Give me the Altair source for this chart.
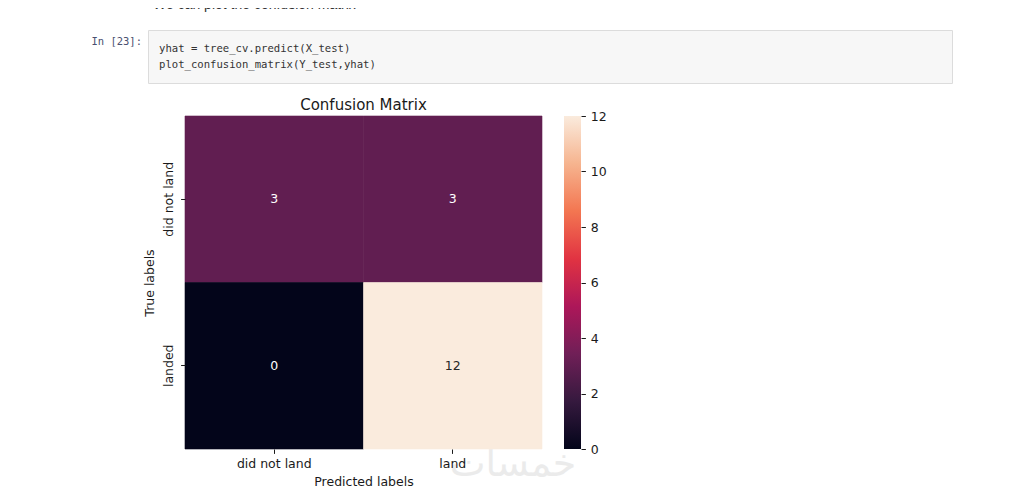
import altair as alt
import pandas as pd

# ---------------- data ----------------
true_labels = ["did not land", "landed"]
pred_labels = ["did not land", "land"]
counts = [[3, 3],
          [0, 12]]
vmin, vmax = 0, 12
cbar_ticks = [0, 2, 4, 6, 8, 10, 12]

# seaborn "rocket" colormap key colours
rocket_pos = [0, 1 / 7, 2 / 7, 3 / 7, 4 / 7, 5 / 7, 6 / 7, 1]
rocket_colors = ["#03051a", "#35193e", "#701f57", "#ad1759",
                 "#e13342", "#f37651", "#f6b48f", "#faebdd"]

# notebook text
intro_text = "We can plot the confusion matrix"
prompt_text = "In [23]:"
code_lines = ["yhat = tree_cv.predict(X_test)",
              "plot_confusion_matrix(Y_test,yhat)"]
title_text = "Confusion Matrix"
x_title = "Predicted labels"
y_title = "True labels"
watermark_text = "خمسات"

rows = [{"true": t, "pred": p, "value": counts[i][j]}
        for i, t in enumerate(true_labels)
        for j, p in enumerate(pred_labels)]
df = pd.DataFrame(rows)
cbar_df = pd.DataFrame({"lo": [vmin], "hi": [vmax]})

FONT = "DejaVu Sans"
MONO = "DejaVu Sans Mono"
INK = "#1a1a1a"
W, H = 357, 333

color_scale = alt.Scale(domain=[vmin + p * (vmax - vmin) for p in rocket_pos],
                        range=rocket_colors, interpolate="rgb")
band = alt.Scale(paddingInner=0, paddingOuter=0)

x_axis = alt.Axis(title=x_title, labelAngle=0, domain=False, grid=False,
                  ticks=True, tickSize=4.4, tickColor=INK, tickWidth=1,
                  labelPadding=14, labelBaseline="alphabetic",
                  labelFont=FONT, labelFontSize=12.5, labelColor=INK,
                  titleFont=FONT, titleFontSize=12.5, titleFontWeight="normal",
                  titleColor=INK, titleY=36.5, titleBaseline="alphabetic")
y_axis = alt.Axis(title=y_title, labelAngle=270, labelAlign="center",
                  labelBaseline="alphabetic", labelPadding=8.3,
                  domain=False, grid=False, ticks=True, tickSize=4.4,
                  tickColor=INK, tickWidth=1,
                  labelFont=FONT, labelFontSize=12.5, labelColor=INK,
                  titleFont=FONT, titleFontSize=12.5, titleFontWeight="normal",
                  titleColor=INK, titleAngle=270, titleX=-31.5, titleY=H / 2,
                  titleAlign="center", titleBaseline="alphabetic")

heat = alt.Chart(df).mark_rect(strokeWidth=0.6).encode(
    x=alt.X("pred:N", sort=pred_labels, scale=band, axis=x_axis),
    y=alt.Y("true:N", sort=true_labels, scale=band, axis=y_axis),
    color=alt.Color("value:Q", scale=color_scale, legend=None),
    stroke=alt.Stroke("value:Q", scale=color_scale, legend=None),
)
cell_text = alt.Chart(df).mark_text(font=FONT, fontSize=12.5,
                                    align="center", baseline="middle").encode(
    x=alt.X("pred:N", sort=pred_labels, scale=band, axis=x_axis),
    y=alt.Y("true:N", sort=true_labels, scale=band, axis=y_axis),
    text="value:Q",
    color=alt.condition(alt.datum.value > 6, alt.value("#262626"), alt.value("white")),
)
matrix = alt.layer(heat, cell_text)

cbar = alt.Chart(cbar_df).mark_rect(
    fill=alt.Gradient(gradient="linear", x1=0, x2=0, y1=1, y2=0,
                      stops=[alt.GradientStop(offset=p, color=c)
                             for p, c in zip(rocket_pos, rocket_colors)]),
    strokeWidth=0,
).encode(
    x=alt.value(379), x2=alt.value(396),
    y=alt.Y("lo:Q", scale=alt.Scale(domain=[vmin, vmax], nice=False, zero=False),
            axis=alt.Axis(orient="right", offset=39, values=cbar_ticks, title=None,
                          domain=False, grid=False, ticks=True, tickSize=4.4,
                          tickColor=INK, tickWidth=1, labelPadding=4.9,
                          labelFlush=False, labelFont=FONT, labelFontSize=12.5,
                          labelColor=INK)),
    y2="hi:Q",
)

blank = alt.Data(values=[{}])

code_box = alt.Chart(blank).mark_rect(fill="#f7f7f7", stroke="#dcdcdc", strokeWidth=1).encode(
    x=alt.value(-36.5), x2=alt.value(767.5), y=alt.value(-85.5), y2=alt.value(-32.5))

intro = alt.Chart(blank).mark_text(text=intro_text, font="Liberation Sans", fontSize=14,
                                   color="#333333", align="left", baseline="alphabetic").encode(
    x=alt.value(-32), y=alt.value(-107))
prompt = alt.Chart(blank).mark_text(text=prompt_text, font=MONO, fontSize=10.5,
                                    color="#4a5070", align="right", baseline="alphabetic").encode(
    x=alt.value(-43), y=alt.value(-71))
code1 = alt.Chart(blank).mark_text(text=code_lines[0], font=MONO, fontSize=10.6,
                                   color="#333333", align="left", baseline="alphabetic").encode(
    x=alt.value(-26), y=alt.value(-64.5))
code2 = alt.Chart(blank).mark_text(text=code_lines[1], font=MONO, fontSize=10.6,
                                   color="#333333", align="left", baseline="alphabetic").encode(
    x=alt.value(-26), y=alt.value(-48))
title = alt.Chart(blank).mark_text(text=title_text, font=FONT, fontSize=15, color=INK,
                                   align="center", baseline="alphabetic").encode(
    x=alt.value(W / 2), y=alt.value(-6.5))
watermark = alt.Chart(blank).mark_text(text=watermark_text, font=FONT, fontSize=38,
                                       fontWeight="normal", color="#ebebeb",
                                       align="center", baseline="alphabetic").encode(
    x=alt.value(328), y=alt.value(360))

chart = alt.layer(
    code_box, intro, prompt, code1, code2, title, watermark, matrix, cbar
).resolve_scale(y="independent").properties(
    width=W, height=H,
    autosize=alt.AutoSizeParams(type="none"),
    padding={"left": 177, "top": 108, "right": 466, "bottom": 40},
).configure_view(stroke=None)

chart.save("out.html", embed_options={"renderer": "svg", "actions": False})
